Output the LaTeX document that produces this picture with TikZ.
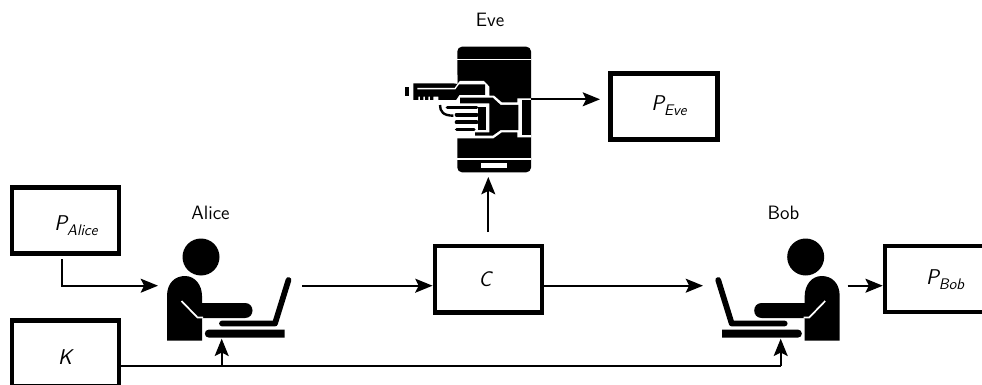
\documentclass[tikz,border=0pt]{standalone}
\usetikzlibrary{arrows.meta,calc}
\newcommand{\psub}[2]{{\slshape\fontsize{16}{18}\selectfont #1\raisebox{-3.5pt}{\fontsize{11.5}{12}\selectfont #2}}}
\tikzset{
  boxnode/.style={draw=black,line width=3.4pt,fill=white,minimum width=80.25pt,minimum height=49.8pt,inner sep=0pt},
  txt/.style={font=\sffamily\fontsize{14.5}{16}\selectfont,inner sep=0pt,text=black},
  conn/.style={line width=1.25pt,draw=black,-{Stealth[length=13pt,width=10.5pt,inset=2.6pt]}},
  pics/person/.style={code={
    \fill (201,257) circle [radius=18.5];
    \fill (167,340.5) -- (167,296) .. controls (167,283) and (175,276) .. (185,276)
      .. controls (195,276) and (202,285) .. (202,296) -- (202,303) -- (245,303)
      .. controls (255,303) and (255,318) .. (245,318) -- (202,318) -- (202,340.5) -- cycle;
    \draw[white,line width=1.3pt] (181.5,301) -- (197.5,317.5) -- (203,317.5);
    \draw[line width=4.3pt,line cap=round,line join=round] (288.5,280) -- (275,323.5) -- (222,323.5);
    \fill (284.5,329.5) -- (209,329.5) .. controls (203.5,329.5) and (203.5,337.7) .. (209,337.7) -- (284.5,337.7) -- cycle;
  }}
}
\begin{document}
\begin{tikzpicture}[x=.75pt,y=-.75pt]
\useasboundingbox (0,0) rectangle (982,385);
\clip (0,0) rectangle (982,385);
\fill[white] (0,0) rectangle (982,385);
% boxes
\node[boxnode] (PA) at (65.5,220.5) {};
\node[boxnode] (K) at (65.5,353.5) {};
\node[boxnode] (C) at (488.3,279.2) {};
\node[boxnode] (PE) at (664,106.5) {};
\node[boxnode] (PB) at (938.5,279) {};
\node[txt] (tPA) at (76,226) {\psub{P}{Alice}};
\node[txt] (tK) at (65,357) {\slshape\fontsize{16}{18}\selectfont K};
\node[txt] (tC) at (485,279) {\slshape\fontsize{16}{18}\selectfont C};
\node[txt] (tPE) at (669,106) {\psub{P}{Eve}};
\node[txt] (tPB) at (945,280) {\psub{P}{Bob}};
\node[txt] (lA) at (210.5,212.5) {Alice};
\node[txt] (lE) at (490,19.5) {Eve};
\node[txt] (lB) at (783.5,212.5) {Bob};
% people
\pic (alice) at (0,0) {person};
\pic[xscale=-1] (bob) at (1006.7,0) {person};
% phone
\fill[rounded corners=3.5pt] (457.3,46.7) rectangle (531,172.3);
\draw[white,line width=1pt] (457.3,59.5) -- (531,59.5);
\draw[white,line width=1pt] (457.3,159) -- (531,159);
\fill[white] (481,163.3) rectangle (507,167.7);
\begin{scope}[shift={(400,75)},x=.25pt,y=-.25pt]
  \fill[white] (60,0) -- (172,0) -- (172,36) -- (180,18) -- (252,18) -- (268,35) -- (268,62) -- (282,62) -- (305,82) -- (352,82) -- (352,70) -- (393,70) -- (393,187) -- (352,187) -- (352,172) -- (305,172) -- (280,190) -- (172,190) -- (60,190) -- cycle;
  % key
  \fill (15,37) rectangle (28,63);
  \fill (40,25) -- (160,25) -- (178,28) -- (255,28) -- (255,60) -- (178,60) -- (168,75) -- (115,75) -- (115,65) -- (100,65) -- (100,75) -- (90,75) -- (90,65) -- (85,65) -- (85,75) -- (75,75) -- (75,65) -- (70,65) -- (70,75) -- (60,75) -- (60,65) -- (55,65) -- (55,75) -- (40,75) -- cycle;
  \draw[white,line width=1pt] (52,41) -- (165,41) -- (180,20);
  % hand
  \fill (180,68) -- (278,68) -- (302,90) -- (355,90) -- (355,165) -- (302,165) -- (278,182) -- (225,182) -- (225,172) -- (268,172) -- (268,85) -- (180,85) -- cycle;
  \fill (234,95) rectangle (259,165);
  \draw[line width=2.6pt,line cap=round] (142,97) -- (230,97);
  \draw[line width=3pt,line cap=round] (170,119) -- (230,119);
  \draw[line width=3pt,line cap=round] (170,142) -- (230,142);
  \draw[line width=2.6pt,line cap=round] (170,164) -- (222,164);
  \draw[line width=1.8pt] (120,90) .. controls (120,110) and (130,122) .. (160,122);
  % cuff
  \fill (367,75) rectangle (393,180);
\end{scope}
% connector ends
\coordinate (aliceIn) at (158,285.7);
\coordinate (aliceOut) at (302,285.7);
\coordinate (bobIn) at (703,285.7);
\coordinate (bobOut) at (847.7,285.7);
\coordinate (phoneIn) at (488.3,177);
\coordinate (phoneOut) at (531,99.3);
\coordinate (phoneTip) at (600,99.3);
\coordinate (cUp) at (488.3,232);
\coordinate (kBus) at (0,365.7);
\coordinate (aliceKey) at (221.7,338.7);
\coordinate (bobKey) at (780.7,338.7);
\coordinate (paStart) at (62,259);
% connectors
\draw[conn] (paStart) |- (aliceIn);
\draw[conn] (aliceOut) -- (aliceOut -| C.west);
\draw[conn] (aliceOut -| C.east) -- (bobIn);
\draw[conn] (cUp) -- (phoneIn);
\draw[conn] (phoneOut) -- (phoneTip);
\draw[conn] (bobOut) -- (bobOut -| PB.west);
\draw[line width=1.25pt] (K.east |- kBus) -- (kBus -| bobKey);
\draw[conn] (kBus -| aliceKey) -- (aliceKey);
\draw[conn] (kBus -| bobKey) -- (bobKey);
\end{tikzpicture}
\end{document}
